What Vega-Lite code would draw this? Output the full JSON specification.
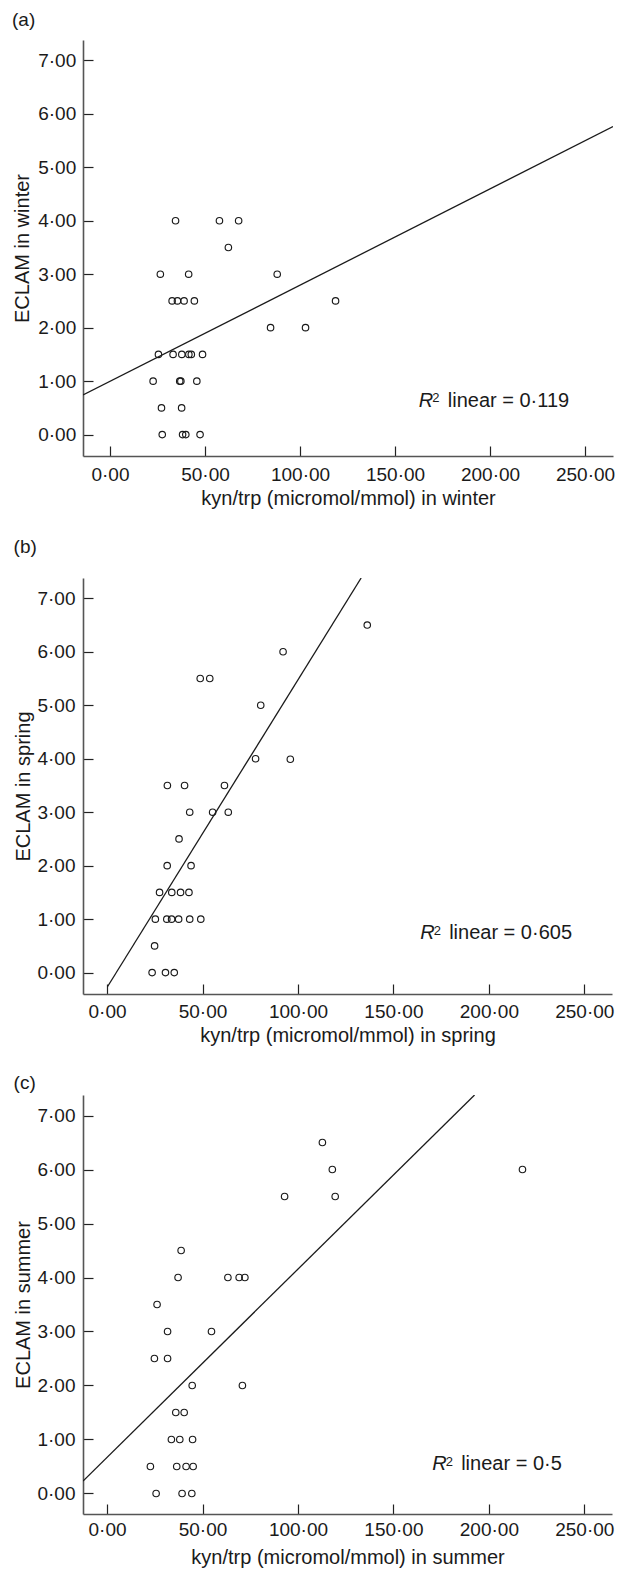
{
  "$schema": "https://vega.github.io/schema/vega-lite/v6.json",
  "background": "white",
  "padding": {"left": 12, "top": 11, "right": 2, "bottom": 2},
  "spacing": 28,
  "columns": 1,
  "config": {
    "view": {"stroke": null},
    "font": "Liberation Sans",
    "axis": {
      "grid": false, "domainColor": "#555555", "domainWidth": 1.6,
      "tickColor": "#222222", "tickWidth": 1.2, "tickSize": -10,
      "labelFont": "Liberation Sans", "labelFontSize": 19, "labelColor": "#1a1a1a",
      "titleFont": "Liberation Sans", "titleFontSize": 20, "titleFontWeight": "normal", "titleColor": "#1a1a1a",
      "labelFlush": false, "labelOverlap": false
    },
    "title": {"font": "Liberation Sans", "fontSize": 19, "fontWeight": "normal", "color": "#1a1a1a", "anchor": "start", "frame": "bounds", "baseline": "alphabetic"}
  },
  "datasets": {
    "points": [
      {"season": "winter", "kyn": 34.5, "eclam": 4}, {"season": "winter", "kyn": 57.6, "eclam": 4}, {"season": "winter", "kyn": 67.7, "eclam": 4},
      {"season": "winter", "kyn": 62.3, "eclam": 3.5},
      {"season": "winter", "kyn": 26.5, "eclam": 3}, {"season": "winter", "kyn": 41.4, "eclam": 3}, {"season": "winter", "kyn": 88.0, "eclam": 3},
      {"season": "winter", "kyn": 32.7, "eclam": 2.5}, {"season": "winter", "kyn": 35.5, "eclam": 2.5}, {"season": "winter", "kyn": 39.0, "eclam": 2.5}, {"season": "winter", "kyn": 44.4, "eclam": 2.5}, {"season": "winter", "kyn": 118.7, "eclam": 2.5},
      {"season": "winter", "kyn": 84.5, "eclam": 2}, {"season": "winter", "kyn": 102.9, "eclam": 2},
      {"season": "winter", "kyn": 25.5, "eclam": 1.5}, {"season": "winter", "kyn": 33.2, "eclam": 1.5}, {"season": "winter", "kyn": 37.8, "eclam": 1.5}, {"season": "winter", "kyn": 41.5, "eclam": 1.5}, {"season": "winter", "kyn": 42.8, "eclam": 1.5}, {"season": "winter", "kyn": 48.7, "eclam": 1.5},
      {"season": "winter", "kyn": 22.7, "eclam": 1}, {"season": "winter", "kyn": 36.7, "eclam": 1}, {"season": "winter", "kyn": 37.3, "eclam": 1}, {"season": "winter", "kyn": 45.7, "eclam": 1},
      {"season": "winter", "kyn": 27.1, "eclam": 0.5}, {"season": "winter", "kyn": 37.7, "eclam": 0.5},
      {"season": "winter", "kyn": 27.5, "eclam": 0}, {"season": "winter", "kyn": 38.2, "eclam": 0}, {"season": "winter", "kyn": 39.9, "eclam": 0}, {"season": "winter", "kyn": 47.4, "eclam": 0},

      {"season": "spring", "kyn": 136.3, "eclam": 6.5},
      {"season": "spring", "kyn": 92.2, "eclam": 6},
      {"season": "spring", "kyn": 48.8, "eclam": 5.5}, {"season": "spring", "kyn": 53.8, "eclam": 5.5},
      {"season": "spring", "kyn": 80.5, "eclam": 5},
      {"season": "spring", "kyn": 77.8, "eclam": 4}, {"season": "spring", "kyn": 96.0, "eclam": 3.99},
      {"season": "spring", "kyn": 31.6, "eclam": 3.5}, {"season": "spring", "kyn": 40.6, "eclam": 3.5}, {"season": "spring", "kyn": 61.5, "eclam": 3.5},
      {"season": "spring", "kyn": 43.3, "eclam": 3}, {"season": "spring", "kyn": 55.3, "eclam": 3}, {"season": "spring", "kyn": 63.5, "eclam": 3},
      {"season": "spring", "kyn": 37.7, "eclam": 2.5},
      {"season": "spring", "kyn": 31.5, "eclam": 2}, {"season": "spring", "kyn": 44.0, "eclam": 2},
      {"season": "spring", "kyn": 27.5, "eclam": 1.5}, {"season": "spring", "kyn": 33.9, "eclam": 1.5}, {"season": "spring", "kyn": 38.5, "eclam": 1.5}, {"season": "spring", "kyn": 42.9, "eclam": 1.5},
      {"season": "spring", "kyn": 25.3, "eclam": 1}, {"season": "spring", "kyn": 31.3, "eclam": 1}, {"season": "spring", "kyn": 33.8, "eclam": 1}, {"season": "spring", "kyn": 37.5, "eclam": 1}, {"season": "spring", "kyn": 43.3, "eclam": 1}, {"season": "spring", "kyn": 49.1, "eclam": 1},
      {"season": "spring", "kyn": 24.9, "eclam": 0.5},
      {"season": "spring", "kyn": 23.6, "eclam": 0}, {"season": "spring", "kyn": 30.6, "eclam": 0}, {"season": "spring", "kyn": 35.2, "eclam": 0},

      {"season": "summer", "kyn": 112.8, "eclam": 6.5},
      {"season": "summer", "kyn": 118.0, "eclam": 6}, {"season": "summer", "kyn": 217.6, "eclam": 6},
      {"season": "summer", "kyn": 93.0, "eclam": 5.5}, {"season": "summer", "kyn": 119.5, "eclam": 5.5},
      {"season": "summer", "kyn": 38.8, "eclam": 4.5},
      {"season": "summer", "kyn": 37.2, "eclam": 4}, {"season": "summer", "kyn": 63.3, "eclam": 4}, {"season": "summer", "kyn": 69.2, "eclam": 4}, {"season": "summer", "kyn": 72.2, "eclam": 4},
      {"season": "summer", "kyn": 26.2, "eclam": 3.5},
      {"season": "summer", "kyn": 31.7, "eclam": 3}, {"season": "summer", "kyn": 54.7, "eclam": 3},
      {"season": "summer", "kyn": 24.8, "eclam": 2.5}, {"season": "summer", "kyn": 31.7, "eclam": 2.5},
      {"season": "summer", "kyn": 44.6, "eclam": 2}, {"season": "summer", "kyn": 70.9, "eclam": 2},
      {"season": "summer", "kyn": 36.0, "eclam": 1.5}, {"season": "summer", "kyn": 40.4, "eclam": 1.5},
      {"season": "summer", "kyn": 33.7, "eclam": 1}, {"season": "summer", "kyn": 38.1, "eclam": 1}, {"season": "summer", "kyn": 44.8, "eclam": 1},
      {"season": "summer", "kyn": 22.7, "eclam": 0.5}, {"season": "summer", "kyn": 36.5, "eclam": 0.5}, {"season": "summer", "kyn": 41.4, "eclam": 0.5}, {"season": "summer", "kyn": 45.1, "eclam": 0.5},
      {"season": "summer", "kyn": 25.7, "eclam": 0}, {"season": "summer", "kyn": 39.3, "eclam": 0}, {"season": "summer", "kyn": 44.4, "eclam": 0}
    ],
    "fits": [
      {"season": "winter", "kyn": -14.2, "eclam": 0.74}, {"season": "winter", "kyn": 264.7, "eclam": 5.76},
      {"season": "spring", "kyn": 0.3, "eclam": -0.26}, {"season": "spring", "kyn": 133.1, "eclam": 7.38},
      {"season": "summer", "kyn": -12.6, "eclam": 0.23}, {"season": "summer", "kyn": 192.5, "eclam": 7.38}
    ],
    "notes": [
      {"season": "winter", "kyn": 162.5, "eclam": 0.52, "rest": "linear = 0·119"},
      {"season": "spring", "kyn": 164.0, "eclam": 0.62, "rest": "linear = 0·605"},
      {"season": "summer", "kyn": 170.3, "eclam": 0.43, "rest": "linear = 0·5"}
    ]
  },
  "concat": [
    {
      "title": {"text": "(a)", "offset": 9.7},
      "width": 530, "height": 416,
      "layer": [
        {"data": {"name": "points"}, "transform": [{"filter": "datum.season === 'winter'"}],
         "mark": {"type": "point", "shape": "circle", "filled": false, "size": 42, "strokeWidth": 1.15, "color": "#1a1a1a", "opacity": 1},
         "encoding": {
           "x": {"field": "kyn", "type": "quantitative", "scale": {"domain": [-14.2, 264.7], "nice": false, "zero": false},
                 "axis": {"title": "kyn/trp (micromol/mmol) in winter", "values": [0, 50, 100, 150, 200, 250], "labelExpr": "replace(format(datum.value, '.2f'), '.', '·')", "labelPadding": 19.3, "labelDx": -3, "minExtent": 25, "maxExtent": 25, "titlePadding": 7.5}},
           "y": {"field": "eclam", "type": "quantitative", "scale": {"domain": [-0.4, 7.38], "nice": false, "zero": false},
                 "axis": {"title": "ECLAM in winter", "values": [0, 1, 2, 3, 4, 5, 6, 7], "labelExpr": "replace(format(datum.value, '.2f'), '.', '·')", "labelPadding": 17.3, "minExtent": 44, "maxExtent": 44, "titlePadding": 7}}
         }},
        {"data": {"name": "fits"}, "transform": [{"filter": "datum.season === 'winter'"}],
         "mark": {"type": "line", "color": "#1a1a1a", "strokeWidth": 1.3, "clip": true},
         "encoding": {"x": {"field": "kyn", "type": "quantitative"}, "y": {"field": "eclam", "type": "quantitative"}}},
        {"data": {"name": "notes"}, "transform": [{"filter": "datum.season === 'winter'"}],
         "mark": {"type": "text", "text": "R", "fontStyle": "italic", "fontSize": 20, "align": "left", "baseline": "alphabetic", "color": "#1a1a1a"},
         "encoding": {"x": {"field": "kyn", "type": "quantitative"}, "y": {"field": "eclam", "type": "quantitative"}}},
        {"data": {"name": "notes"}, "transform": [{"filter": "datum.season === 'winter'"}],
         "mark": {"type": "text", "text": "2", "fontSize": 13, "dx": 13.5, "dy": -4.5, "align": "left", "baseline": "alphabetic", "color": "#1a1a1a"},
         "encoding": {"x": {"field": "kyn", "type": "quantitative"}, "y": {"field": "eclam", "type": "quantitative"}}},
        {"data": {"name": "notes"}, "transform": [{"filter": "datum.season === 'winter'"}],
         "mark": {"type": "text", "fontSize": 20, "dx": 29, "align": "left", "baseline": "alphabetic", "color": "#1a1a1a"},
         "encoding": {"x": {"field": "kyn", "type": "quantitative"}, "y": {"field": "eclam", "type": "quantitative"}, "text": {"field": "rest"}}}
      ]
    },
    {
      "title": {"text": "(b)", "offset": 21.1},
      "width": 529, "height": 416,
      "layer": [
        {"data": {"name": "points"}, "transform": [{"filter": "datum.season === 'spring'"}],
         "mark": {"type": "point", "shape": "circle", "filled": false, "size": 42, "strokeWidth": 1.15, "color": "#1a1a1a", "opacity": 1},
         "encoding": {
           "x": {"field": "kyn", "type": "quantitative", "scale": {"domain": [-12.6, 264.5], "nice": false, "zero": false},
                 "axis": {"title": "kyn/trp (micromol/mmol) in spring", "values": [0, 50, 100, 150, 200, 250], "labelExpr": "replace(format(datum.value, '.2f'), '.', '·')", "labelPadding": 18.2, "labelDx": -1, "minExtent": 25, "maxExtent": 25, "titlePadding": 6.5}},
           "y": {"field": "eclam", "type": "quantitative", "scale": {"domain": [-0.4, 7.38], "nice": false, "zero": false},
                 "axis": {"title": "ECLAM in spring", "values": [0, 1, 2, 3, 4, 5, 6, 7], "labelExpr": "replace(format(datum.value, '.2f'), '.', '·')", "labelPadding": 18, "minExtent": 42, "maxExtent": 42, "titlePadding": 7.4}}
         }},
        {"data": {"name": "fits"}, "transform": [{"filter": "datum.season === 'spring'"}],
         "mark": {"type": "line", "color": "#1a1a1a", "strokeWidth": 1.3, "clip": true},
         "encoding": {"x": {"field": "kyn", "type": "quantitative"}, "y": {"field": "eclam", "type": "quantitative"}}},
        {"data": {"name": "notes"}, "transform": [{"filter": "datum.season === 'spring'"}],
         "mark": {"type": "text", "text": "R", "fontStyle": "italic", "fontSize": 20, "align": "left", "baseline": "alphabetic", "color": "#1a1a1a"},
         "encoding": {"x": {"field": "kyn", "type": "quantitative"}, "y": {"field": "eclam", "type": "quantitative"}}},
        {"data": {"name": "notes"}, "transform": [{"filter": "datum.season === 'spring'"}],
         "mark": {"type": "text", "text": "2", "fontSize": 13, "dx": 13.5, "dy": -4.5, "align": "left", "baseline": "alphabetic", "color": "#1a1a1a"},
         "encoding": {"x": {"field": "kyn", "type": "quantitative"}, "y": {"field": "eclam", "type": "quantitative"}}},
        {"data": {"name": "notes"}, "transform": [{"filter": "datum.season === 'spring'"}],
         "mark": {"type": "text", "fontSize": 20, "dx": 29, "align": "left", "baseline": "alphabetic", "color": "#1a1a1a"},
         "encoding": {"x": {"field": "kyn", "type": "quantitative"}, "y": {"field": "eclam", "type": "quantitative"}, "text": {"field": "rest"}}}
      ]
    },
    {
      "title": {"text": "(c)", "offset": 1.9},
      "width": 529, "height": 419,
      "layer": [
        {"data": {"name": "points"}, "transform": [{"filter": "datum.season === 'summer'"}],
         "mark": {"type": "point", "shape": "circle", "filled": false, "size": 42, "strokeWidth": 1.15, "color": "#1a1a1a", "opacity": 1},
         "encoding": {
           "x": {"field": "kyn", "type": "quantitative", "scale": {"domain": [-12.6, 264.5], "nice": false, "zero": false},
                 "axis": {"title": "kyn/trp (micromol/mmol) in summer", "values": [0, 50, 100, 150, 200, 250], "labelExpr": "replace(format(datum.value, '.2f'), '.', '·')", "labelPadding": 16.9, "labelDx": -2, "minExtent": 25, "maxExtent": 25, "titlePadding": 8.5}},
           "y": {"field": "eclam", "type": "quantitative", "scale": {"domain": [-0.38, 7.38], "nice": false, "zero": false},
                 "axis": {"title": "ECLAM in summer", "values": [0, 1, 2, 3, 4, 5, 6, 7], "labelExpr": "replace(format(datum.value, '.2f'), '.', '·')", "labelPadding": 18, "minExtent": 42, "maxExtent": 42, "titlePadding": 7.4}}
         }},
        {"data": {"name": "fits"}, "transform": [{"filter": "datum.season === 'summer'"}],
         "mark": {"type": "line", "color": "#1a1a1a", "strokeWidth": 1.3, "clip": true},
         "encoding": {"x": {"field": "kyn", "type": "quantitative"}, "y": {"field": "eclam", "type": "quantitative"}}},
        {"data": {"name": "notes"}, "transform": [{"filter": "datum.season === 'summer'"}],
         "mark": {"type": "text", "text": "R", "fontStyle": "italic", "fontSize": 20, "align": "left", "baseline": "alphabetic", "color": "#1a1a1a"},
         "encoding": {"x": {"field": "kyn", "type": "quantitative"}, "y": {"field": "eclam", "type": "quantitative"}}},
        {"data": {"name": "notes"}, "transform": [{"filter": "datum.season === 'summer'"}],
         "mark": {"type": "text", "text": "2", "fontSize": 13, "dx": 13.5, "dy": -4.5, "align": "left", "baseline": "alphabetic", "color": "#1a1a1a"},
         "encoding": {"x": {"field": "kyn", "type": "quantitative"}, "y": {"field": "eclam", "type": "quantitative"}}},
        {"data": {"name": "notes"}, "transform": [{"filter": "datum.season === 'summer'"}],
         "mark": {"type": "text", "fontSize": 20, "dx": 29, "align": "left", "baseline": "alphabetic", "color": "#1a1a1a"},
         "encoding": {"x": {"field": "kyn", "type": "quantitative"}, "y": {"field": "eclam", "type": "quantitative"}, "text": {"field": "rest"}}}
      ]
    }
  ]
}
